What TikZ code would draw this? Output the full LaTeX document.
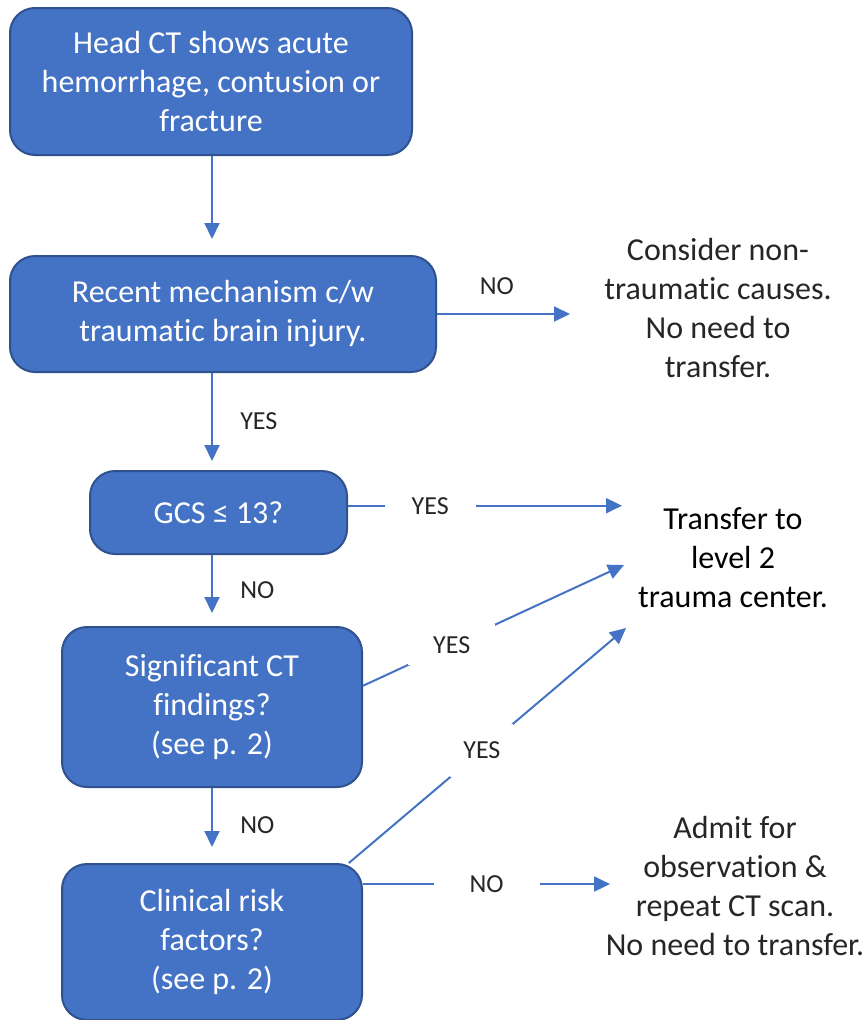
\documentclass[tikz,border=0pt]{standalone}
\usepackage{fontspec}
\setmainfont{Carlito}[Ligatures=NoCommon]
\usetikzlibrary{arrows.meta,positioning,calc}
\definecolor{boxblue}{RGB}{68,114,196}
\definecolor{boxedge}{RGB}{47,82,143}
\definecolor{inktext}{RGB}{38,38,38}

\begin{document}
\begin{tikzpicture}[
    x=1pt, y=-1pt,
    stepbox/.style={rectangle, rounded corners=25pt, draw=boxedge, fill=boxblue, line width=2pt, text=white, align=center, font=\fontsize{32}{39}\selectfont, inner sep=0pt},
    outcome/.style={align=center, text=inktext, font=\fontsize{32}{39}\selectfont},
    arrow/.style={-{Triangle[length=16pt,width=15pt]}, line width=2pt, boxblue},
    lbl/.style={font=\fontsize{26}{31}\selectfont, text=inktext, fill=white}
]
    \useasboundingbox (0,0) rectangle (867,1020);

    \node[stepbox, minimum width=402pt, minimum height=147pt] (head) at (211,81.5) {Head CT shows acute\\hemorrhage, contusion or\\fracture};
    \node[stepbox, minimum width=426pt, minimum height=116pt] (mech) at (223,314) {Recent mechanism c/w\\traumatic brain injury.};
    \node[stepbox, minimum width=257pt, minimum height=83pt] (gcs) at (218.5,512.5) {GCS ≤ 13?};
    \node[stepbox, minimum width=300pt, minimum height=160pt] (sig) at (212,707) {Significant CT\\findings?\\(see p. 2)};
    \node[stepbox, minimum width=300pt, minimum height=156pt] (clin) at (212,942) {Clinical risk\\factors?\\(see p. 2)};

    \node[outcome] (cons) at (718,308) {Consider non-\\traumatic causes.\\No need to\\transfer.};
    \node[outcome, text=black] (trans) at (733,558) {Transfer to\\level 2\\trauma center.};
    \node[outcome] (admit) at (735,886) {Admit for\\observation \&\\repeat CT scan.\\No need to transfer.};

    % arrow ends in front of the outcome texts
    \coordinate (spine) at (212,0);
    \coordinate (consin) at (570,0);
    \coordinate (trA) at (622,506);
    \coordinate (trB) at (624,565);
    \coordinate (trC) at (626,628);
    \coordinate (admin) at (610,0);

    \draw[arrow, shorten >=16pt] (spine |- head.south) -- (spine |- mech.north);
    \draw[arrow, shorten >=9pt] (spine |- mech.south) -- node[lbl, right=24pt] {YES} (spine |- gcs.north);
    \draw[arrow, shorten >=13pt] (spine |- gcs.south) -- node[lbl, right=24pt] {NO} (spine |- sig.north);
    \draw[arrow, shorten >=16pt] (spine |- sig.south) -- node[lbl, right=24pt] {NO} (spine |- clin.north);

    \draw[arrow] (mech.east) -- node[lbl, pos=0.45, above=15pt] {NO} (mech.east -| consin);
    \draw[arrow] (gcs.3) -- node[lbl, pos=0.3, inner xsep=27pt] {YES} (gcs.3 -| trA);
    \draw[arrow] (sig.8) -- node[lbl, pos=0.34, inner xsep=25pt, inner ysep=12pt] {YES} (trB);
    \draw[arrow] (clin.30) -- node[lbl, pos=0.48, inner xsep=13pt, inner ysep=18pt] {YES} (trC);
    \draw[arrow] (clin.21) -- node[lbl, inner xsep=36pt] {NO} (clin.21 -| admin);
\end{tikzpicture}
\end{document}
